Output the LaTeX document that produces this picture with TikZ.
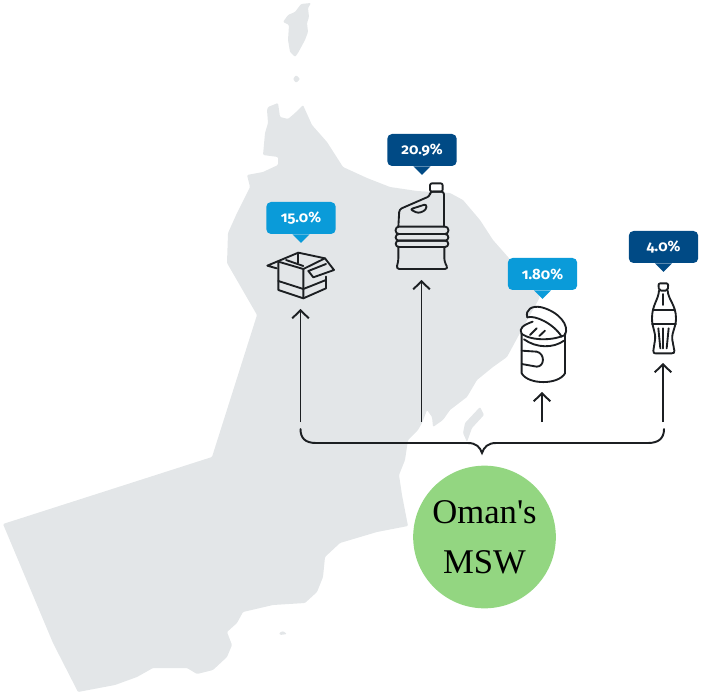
\documentclass[tikz,border=0pt]{standalone}
\usepackage{fontspec}
\setmainfont{Liberation Serif}
\newfontfamily\badgefont[Numbers=OldStyle]{Fira Sans}
\usetikzlibrary{arrows.meta}
\definecolor{mapgrey}{HTML}{E3E6E8}
\definecolor{badgelight}{HTML}{0A9BD9}
\definecolor{badgedark}{HTML}{004A85}
\definecolor{circlegreen}{HTML}{93D681}
\definecolor{inkline}{HTML}{1C1F22}
\begin{document}
\begin{tikzpicture}[x=0.75pt,y=-0.75pt]
	\tikzstyle{land} = [fill=mapgrey, draw=none, rounded corners=0.8pt];
	\tikzstyle{badge} = [rectangle, rounded corners=3.5pt, minimum width=52pt, minimum height=24pt, inner sep=0pt, text=white, font={\badgefont\bfseries\fontsize{11.2}{13}\selectfont}];
	\tikzstyle{icon} = [draw=inkline, line width=1.4pt, line join=round, line cap=round, fill=none];
	\tikzstyle{point} = [draw=inkline, line width=1.45pt, -{Straight Barb[length=6pt,width=12.5pt]}];
	\tikzstyle{total} = [circle, fill=circlegreen, minimum size=107pt, inner sep=0pt, align=center, text=black, font={\fontsize{26}{37.5}\selectfont}];

	\useasboundingbox (0,0) rectangle (706,698);

	% map of the country
	\fill[land] (268,107) -- (278,103) -- (280,117) -- (288,119) -- (295,113) -- (303,105) -- (312,125) -- (327,142) -- (343,167) -- (367,178) -- (390,187) -- (417,191) -- (450,193) -- (463,200) -- (480,220) -- (493,240) -- (508,257) -- (540,297) -- (520,333) -- (507,357) -- (493,367) -- (477,380) -- (467,397) -- (450,410) -- (443,420) -- (433,427) -- (432,417) -- (427,410) -- (422,423) -- (418,430) -- (408,440) -- (405,460) -- (399,475) -- (402,495) -- (408,526) -- (377,532) -- (340,543) -- (325,557) -- (323,577) -- (317,592) -- (305,603) -- (273,605) -- (243,612) -- (237,623) -- (227,632) -- (232,645) -- (227,657) -- (213,670) -- (197,674) -- (187,668) -- (153,668) -- (137,677) -- (115,685) -- (78,692) -- (53,643) -- (3,524) -- (212,457) -- (257,315) -- (227,263) -- (228,233) -- (237,213) -- (245,197) -- (250,187) -- (247,175) -- (263,172) -- (278,165) -- (278,157) -- (263,155) -- (265,133) -- (268,123) -- (267,110) -- cycle;
	\fill[land] (301,4) -- (311,3) -- (308,8) -- (309,17) -- (307,23) -- (308,32) -- (305,40) -- (298,53) -- (295,57) -- (290,52) -- (288,40) -- (289,25) -- (283,22) -- (288,15) -- (295,12) -- cycle;
	\fill[land] (296,75) -- (300,79) -- (296,83) -- (293,79) -- cycle;
	\fill[land] (480,407) -- (484,415) -- (472,428) -- (467,442) -- (463,433) -- (465,423) -- cycle;
	\fill[land] (279,633) -- (283,631) -- (287,634) -- (280,635) -- cycle;

	% percentage tags
	\foreach \name/\bx/\by/\col/\pct in {boxtag/301/218/badgelight/15.0\%, jugtag/422/150/badgedark/20.9\%, cantag/542.5/274/badgelight/1.80\%, coketag/663.5/247/badgedark/4.0\%} {
		\node[badge, fill=\col] (\name) at (\bx,\by) {\pct};
		\fill[\col] ([xshift=-6.5pt]\name.south) -- ([xshift=6.5pt]\name.south) -- ([yshift=-6.5pt]\name.south) -- cycle;
	}

	% open box
	\begin{scope}[shift={(250,120)},x=0.25pt,y=-0.25pt]
		\draw[icon] (85,425) -- (85,510) -- (160,535) -- (228,505) -- (228,470);
		\draw[icon] (85,425) -- (160,447) -- (160,535);
		\draw[icon] (85,483) -- (160,507) -- (228,480);
		\draw[icon] (80,445) -- (52,437) -- (145,398) -- (225,415) -- (160,447);
		\draw[icon] (108,420) -- (160,438);
		\draw[icon] (145,398) -- (145,428);
		\draw[icon] (225,415) -- (252,450) -- (190,472) -- (175,453) -- (228,432);
	\end{scope}

	% jug
	\begin{scope}[shift={(250,120)},x=0.25pt,y=-0.25pt]
		\draw[icon, rounded corners=1.5pt] (540,215) -- (540,190) -- (578,190) -- (578,215) -- cycle;
		\draw[icon, rounded corners=2pt] (582,320) -- (582,215) -- (540,215) -- (540,228) -- (448,268) -- (445,320);
		\draw[icon, rounded corners=2pt] (480,268) -- (530,252) -- (528,270) -- (505,280) -- cycle;
		\draw[icon, rounded corners=2.4pt] (437,320) rectangle (595,342);
		\draw[icon, rounded corners=2.4pt] (437,342) rectangle (595,362);
		\draw[icon, rounded corners=2.4pt] (437,362) rectangle (595,381);
		\draw[icon, rounded corners=2.5pt] (445,381) -- (445,425) -- (438,447) -- (595,447) -- (583,425) -- (583,381);
	\end{scope}

	% tin can
	\begin{scope}[shift={(490,220)},x=0.25pt,y=-0.25pt]
		\draw[icon] (95,340) -- (95,460) .. controls (115,495) and (205,495) .. (225,460) -- (225,340);
		\draw[icon] (102,358) .. controls (140,385) and (190,385) .. (222,362);
		\draw[icon] (95,342) .. controls (85,325) and (100,315) .. (128,305);
		\draw[icon] (95,342) .. controls (130,365) and (195,360) .. (225,345);
		\draw[icon] (112,292) .. controls (105,270) and (125,255) .. (155,262) .. controls (205,275) and (240,315) .. (225,345);
		\draw[icon] (112,292) .. controls (135,285) and (190,310) .. (215,350);
		\draw[icon] (120,345) -- (140,325);
		\draw[icon] (148,348) -- (165,332);
		\draw[icon] (95,392) -- (140,395) .. controls (165,400) and (165,440) .. (140,440) -- (95,432);
	\end{scope}

	% soda bottle
	\begin{scope}[shift={(490,220)},x=0.25pt,y=-0.25pt]
		\draw[icon, rounded corners=1.5pt] (507,212) -- (505,190) -- (535,190) -- (533,212) -- cycle;
		\draw[icon] (507,212) .. controls (505,240) and (486,255) .. (486,295) .. controls (486,325) and (498,335) .. (495,360) -- (490,392) .. controls (490,400) and (492,400) .. (497,400) -- (545,400) .. controls (552,400) and (553,398) .. (553,392) -- (547,360) .. controls (544,335) and (558,325) .. (558,295) .. controls (558,255) and (535,240) .. (533,212);
		\draw[icon] (490,270) -- (552,270);
		\draw[icon] (486,312) -- (558,312);
		\draw[icon] (520,222) -- (520,255);
		\draw[icon] (505,325) -- (511,385);
		\draw[icon] (520,325) -- (520,385);
		\draw[icon] (536,325) -- (530,385);
	\end{scope}

	% arrows up to the items
	\foreach \name/\ax/\tipy in {box/300.5/309, jug/421.5/280, can/542/392, coke/663/363} {
		\coordinate (\name start) at (\ax,422);
		\coordinate (\name tip) at (\ax,\tipy);
		\draw[point] (\name start) -- (\name tip);
	}

	% brace
	\coordinate (braceleft) at (300.5,429);
	\coordinate (braceright) at (664,429);
	\coordinate (bracetip) at (482,453);
	\draw[draw=inkline, line width=1.45pt, line cap=round] (braceleft) .. controls (300.5,438) and (305,443) .. (316,443) -- (468,443) .. controls (476,443) and (480,447) .. (bracetip) .. controls (484,447) and (488,443) .. (496,443) -- (648,443) .. controls (659,443) and (664,438) .. (braceright);

	\node[total] (msw) at (484.5,537) {Oman\textquotesingle s\\MSW};
\end{tikzpicture}
\end{document}
